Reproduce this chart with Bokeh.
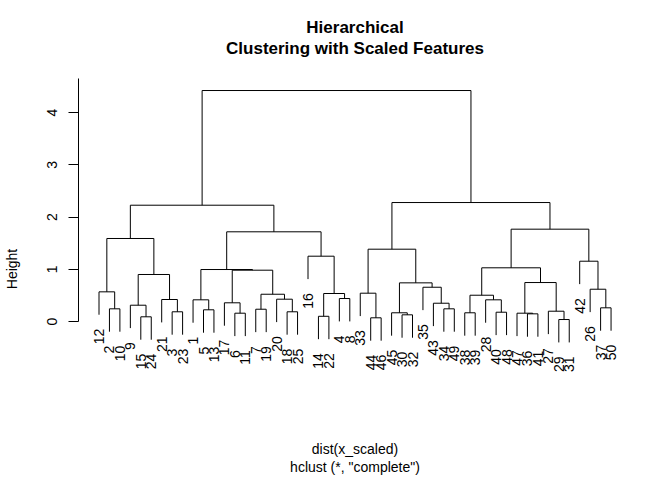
import numpy as np
from bokeh.plotting import figure
from bokeh.models import FixedTicker, Range1d, Title
from bokeh.embed import file_html
from bokeh.resources import INLINE
from bokeh.core.properties import value

# Leaf order (observation numbers, left to right)
leaf_order = [12, 2, 10, 9, 15, 24, 21, 3, 23, 1, 5, 13, 17, 6, 11, 7, 19, 20, 18, 25,
              16, 14, 22, 4, 8, 33, 44, 46, 45, 30, 32, 35, 43, 34, 49, 38, 39, 28, 40, 48,
              47, 36, 41, 27, 29, 31, 42, 26, 37, 50]

# hclust-style merge table: negative = observation, positive = earlier merge row (1-based)
merge_a = [-29, -44, -15, -14, -30, -36, -6, -47, -45, -38,
           -40, -3, -18, -27, -5, -7, -2, -34, -37, -9,
           -43, -17, -1, -28, -21, -20, -4, 10, 16, 4,
           -33, -12, -26, -35, 9, 8, 20, 22, 23, 28,
           -42, -16, 31, 32, 39, 40, 44, 43, 47]
merge_b = [-31, -46, -24, -22, -32, -41, -11, 6, 5, -39,
           -48, -23, -25, 1, -13, -19, -10, -49, -50, 3,
           18, 7, 15, 11, 12, 13, -8, 24, 26, 27,
           2, 17, 19, 21, 34, 14, 25, 29, 38, 36,
           33, 30, 35, 37, 42, 41, 45, 46, 48]
merge_height = [0.038, 0.071, 0.090, 0.100, 0.128, 0.147, 0.159, 0.159, 0.167, 0.167,
                0.178, 0.186, 0.186, 0.197, 0.224, 0.235, 0.243, 0.243, 0.262, 0.312,
                0.350, 0.358, 0.415, 0.415, 0.421, 0.427, 0.440, 0.503, 0.522, 0.536,
                0.542, 0.568, 0.618, 0.656, 0.740, 0.746, 0.900, 0.982, 0.995, 1.028,
                1.154, 1.250, 1.384, 1.589, 1.717, 1.767, 2.226, 2.277, 4.421]

y_ticks = [0, 1, 2, 3, 4]
title_lines = ["Hierarchical", "Clustering with Scaled Features"]
x_label = "dist(x_scaled)"
sub_label = 'hclust (*, "complete")'

hang = 0.1 * (max(merge_height) - min(merge_height))
pos = {leaf: i + 1 for i, leaf in enumerate(leaf_order)}
node_x = {}
x0s, y0s, x1s, y1s = [], [], [], []
leaf_x, leaf_y, leaf_text = [], [], []


def child(c, h):
    if c < 0:
        x = pos[-c]
        y = h - hang
        leaf_x.append(x)
        leaf_y.append(y)
        leaf_text.append(str(-c))
    else:
        x = node_x[c]
        y = merge_height[c - 1]
    return x, y


for k, (a, b, h) in enumerate(zip(merge_a, merge_b, merge_height), start=1):
    xa, ya = child(a, h)
    xb, yb = child(b, h)
    x0s += [xa, xa, xb]
    y0s += [h, h, h]
    x1s += [xb, xa, xb]
    y1s += [h, ya, yb]
    node_x[k] = (xa + xb) / 2

x_start, x_end = -0.962, 51.957
y_start, y_end = -3.043, 5.053
axis_top = 4.645

p = figure(width=672, height=480, output_backend="svg", toolbar_location=None,
           x_range=Range1d(x_start, x_end), y_range=Range1d(y_start, y_end),
           x_axis_location=None, min_border_left=78, min_border_right=41,
           min_border_top=57, min_border_bottom=0)
p.background_fill_color = "white"
p.border_fill_color = "white"
p.outline_line_color = None
p.grid.grid_line_color = None

font = "Liberation Sans"
p.add_layout(Title(text=title_lines[1], align="center", text_font=font, standoff=0,
                   text_font_size="17px", text_font_style="bold", text_color="black"), "above")
p.add_layout(Title(text=title_lines[0], align="center", text_font=font, standoff=0,
                   text_font_size="17px", text_font_style="bold", text_color="black"), "above")

ax = p.yaxis[0]
ax.ticker = FixedTicker(ticks=y_ticks)
ax.bounds = (0, axis_top)
ax.minor_tick_line_color = None
ax.major_tick_out = 10
ax.major_tick_in = 0
ax.axis_line_color = "black"
ax.major_tick_line_color = "black"
ax.major_label_orientation = "vertical"
ax.major_label_text_font = font
ax.major_label_text_font_size = "14px"
ax.major_label_text_color = "black"
ax.major_label_standoff = 11
ax.axis_label = "Height"
ax.axis_label_text_font = font
ax.axis_label_text_font_size = "14px"
ax.axis_label_text_font_style = "normal"
ax.axis_label_text_color = "black"
ax.axis_label_standoff = 25

p.segment(x0=x0s, y0=y0s, x1=x1s, y1=y1s, line_color="black", line_width=1)

p.text(x=leaf_x, y=leaf_y, text=leaf_text, angle=np.pi / 2, text_align="right",
       text_baseline="middle", y_offset=14, text_font=value(font),
       text_font_size="14px", text_color="black")

xc = (x_start + x_end) / 2
p.text(x=[xc, xc], y=[-2.431, -2.794], text=[x_label, sub_label], text_align="center",
       text_baseline="middle", text_font=value(font), text_font_size="14px",
       text_color="black")

open("out.html", "w").write(file_html(p, INLINE))
